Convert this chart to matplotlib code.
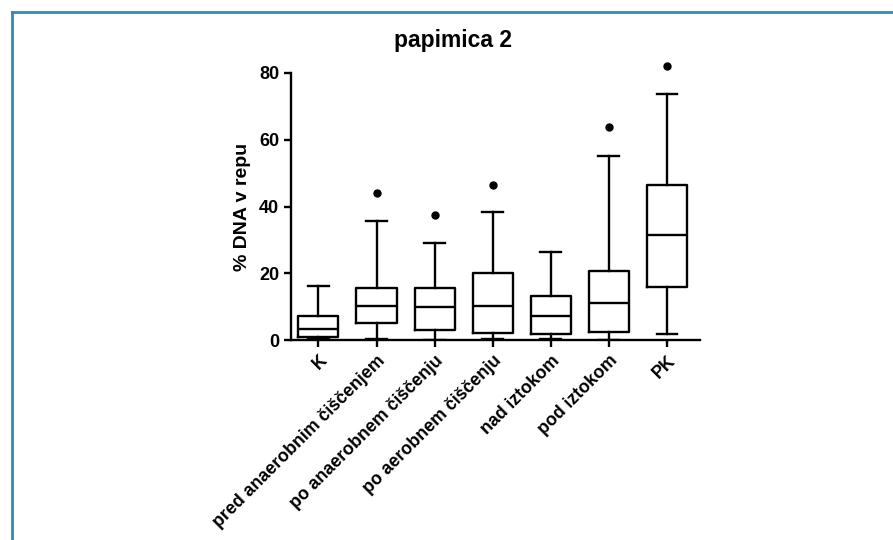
import matplotlib
matplotlib.use('Agg')
import matplotlib.pyplot as plt
from matplotlib.lines import Line2D

plt.rcParams['font.family'] = ['Liberation Sans', 'DejaVu Sans']

groups = ['K', 'pred anaerobnim čiščenjem', 'po anaerobnem čiščenju',
          'po aerobnem čiščenju', 'nad iztokom', 'pod iztokom', 'PK']
whisker_low = [0.5, 0.5, 0.2, 0.5, 0.5, 0.2, 2.0]
q1 = [1.0, 5.0, 3.2, 2.2, 2.0, 2.5, 16.0]
median = [3.3, 10.2, 10.0, 10.3, 7.3, 11.0, 31.5]
q3 = [7.2, 15.5, 15.5, 20.2, 13.2, 20.8, 46.5]
whisker_high = [16.2, 35.8, 29.0, 38.4, 26.3, 55.2, 73.6]
# significance markers (None where there is no marker)
star_y = [None, 44.2, 37.5, 46.5, None, 63.8, 82.0]

fig = plt.figure(figsize=(8.93, 5.4), dpi=100)
ax = fig.add_axes([0.326, 0.370, 0.458, 0.495])

stats = []
for i, g in enumerate(groups):
    stats.append({'label': g, 'whislo': whisker_low[i], 'q1': q1[i],
                  'med': median[i], 'q3': q3[i], 'whishi': whisker_high[i],
                  'fliers': []})

lw = 1.7
ax.bxp(stats, positions=range(len(groups)), widths=0.69, showfliers=False,
       boxprops=dict(color='black', linewidth=lw),
       whiskerprops=dict(color='black', linewidth=lw),
       capprops=dict(color='black', linewidth=lw),
       medianprops=dict(color='black', linewidth=lw),
       capwidths=0.36)

for i, y in enumerate(star_y):
    if y is not None:
        ax.plot(i, y, 'o', color='black', markersize=5, clip_on=False)

ax.set_xlim(-0.47, 6.57)
ax.set_ylim(0, 80)
ax.set_yticks([0, 20, 40, 60, 80])
ax.spines['top'].set_visible(False)
ax.spines['right'].set_visible(False)
ax.spines['left'].set_linewidth(lw)
ax.spines['bottom'].set_linewidth(lw)
ax.tick_params(axis='both', width=lw, length=5, labelsize=13)
ax.set_xticks(range(len(groups)))
ax.set_xticklabels(groups, rotation=45, ha='right', rotation_mode='anchor',
                   fontweight='bold', fontsize=12.8)
for t in ax.get_yticklabels():
    t.set_fontweight('bold')
ax.set_ylabel('% DNA v repu', fontsize=14, fontweight='bold', labelpad=6)
fig.text(453 / 893, 1 - 40 / 540, 'papimica 2', fontsize=16.5,
         fontweight='bold', ha='center', va='center')

# blue frame of the page
frame_c = '#3a86b4'
ytop = 1 - 11.5 / 540
xleft = 11.5 / 893
fig.add_artist(Line2D([xleft, 1], [ytop, ytop], color=frame_c, linewidth=2,
                      transform=fig.transFigure))
fig.add_artist(Line2D([xleft, xleft], [0, ytop], color=frame_c, linewidth=2,
                      transform=fig.transFigure))

fig.savefig('out.png', dpi=100)
